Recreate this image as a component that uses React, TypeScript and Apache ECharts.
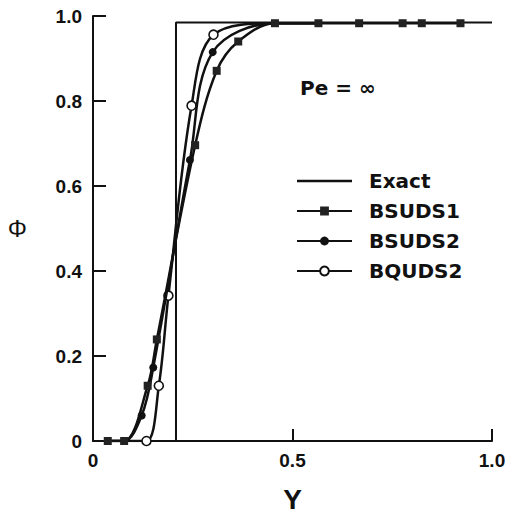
import React, { useEffect, useRef } from "react";
import * as echarts from "echarts";

// Phi(Y) profiles for Pe = infinity: exact step and three upwind schemes
const exact: number[][] = [
  [0, 0],
  [0.208, 0],
  [0.208, 0.985],
  [1.0, 0.985],
];

const bsuds1: number[][] = [
  [0.037, 0],
  [0.078, 0],
  [0.137, 0.13],
  [0.16, 0.239],
  [0.256, 0.696],
  [0.31, 0.871],
  [0.364, 0.94],
  [0.456, 0.983],
  [0.565, 0.983],
  [0.667, 0.983],
  [0.776, 0.983],
  [0.824, 0.983],
  [0.921, 0.983],
];

const bsuds2: number[][] = [
  [0.037, 0],
  [0.078, 0],
  [0.122, 0.06],
  [0.151, 0.173],
  [0.243, 0.661],
  [0.3, 0.915],
  [0.456, 0.983],
  [0.565, 0.983],
];

const bquds2: number[][] = [
  [0.037, 0],
  [0.078, 0],
  [0.134, 0],
  [0.165, 0.13],
  [0.189, 0.342],
  [0.247, 0.789],
  [0.302, 0.956],
  [0.456, 0.983],
  [0.565, 0.983],
];

const ink = "#111";
const tickFont = "Liberation Sans";
const textFont = "DejaVu Sans";

const fmt = (v: number) => (v === 0 ? "0" : v.toFixed(1));

// points shared with BSUDS1 are drawn only once, as its square
const sharedWithSquares = (v: number[]) =>
  bsuds1.some((p) => p[0] === v[0] && p[1] === v[1]);
const circleUnlessShared = (v: number[]) => (sharedWithSquares(v) ? "none" : "circle");

export default function App() {
  const ref = useRef<HTMLDivElement>(null);

  useEffect(() => {
    document.body.style.margin = "0";
    if (!ref.current) return;
    const chart = echarts.init(ref.current, undefined, { renderer: "svg" });
    chart.setOption({
      animation: false,
      backgroundColor: "#fff",
      grid: { left: 93, right: 18, top: 16, bottom: 72 },
      xAxis: {
        type: "value",
        min: 0,
        max: 1,
        interval: 0.5,
        name: "Y",
        nameLocation: "middle",
        nameGap: 44,
        nameTextStyle: { fontFamily: tickFont, fontSize: 28, fontWeight: "bold", color: ink },
        axisLine: { show: true, lineStyle: { color: ink, width: 2 } },
        axisTick: { show: true, inside: true, length: 12, lineStyle: { color: ink, width: 2 } },
        axisLabel: { formatter: fmt, margin: 10, fontFamily: tickFont, fontSize: 19, fontWeight: "bold", color: ink },
        splitLine: { show: false },
      },
      yAxis: {
        type: "value",
        min: 0,
        max: 1,
        interval: 0.2,
        name: "Φ",
        nameLocation: "middle",
        nameRotate: 0,
        nameGap: 66,
        nameTextStyle: { fontFamily: tickFont, fontSize: 24, color: ink },
        axisLine: { show: true, lineStyle: { color: ink, width: 2 } },
        axisTick: { show: true, inside: true, length: 13, lineStyle: { color: ink, width: 2 } },
        axisLabel: { formatter: fmt, margin: 11, fontFamily: tickFont, fontSize: 19, fontWeight: "bold", color: ink },
        splitLine: { show: false },
      },
      legend: {
        orient: "vertical",
        left: 291,
        top: 166,
        itemWidth: 55,
        itemHeight: 11,
        itemGap: 10,
        textStyle: { fontFamily: textFont, fontSize: 20, fontWeight: "bold", color: ink, padding: [0, 0, 0, 12] },
        data: [
          { name: "Exact", icon: "path://M0,0H55V2.4H0Z", itemStyle: { color: ink } },
          "BSUDS1",
          "BSUDS2",
          "BQUDS2",
        ],
      },
      graphic: [
        {
          type: "text",
          left: 300,
          top: 78,
          style: { text: "Pe = ∞", font: `bold 20px "${textFont}"`, fill: ink },
        },
      ],
      series: [
        {
          name: "Exact",
          type: "line",
          data: exact,
          symbol: "none",
          lineStyle: { color: ink, width: 2 },
          itemStyle: { color: ink },
          z: 2,
        },
        {
          name: "BQUDS2",
          type: "line",
          data: bquds2,
          smooth: 0.35,
          symbol: circleUnlessShared,
          symbolSize: 9,
          lineStyle: { color: ink, width: 2.5 },
          itemStyle: { color: "#fff", borderColor: ink, borderWidth: 1.6 },
          z: 3,
        },
        {
          name: "BSUDS2",
          type: "line",
          data: bsuds2,
          smooth: 0.35,
          symbol: circleUnlessShared,
          symbolSize: 8,
          lineStyle: { color: ink, width: 2.5 },
          itemStyle: { color: ink, borderColor: ink, borderWidth: 0 },
          z: 4,
        },
        {
          name: "BSUDS1",
          type: "line",
          data: bsuds1,
          smooth: 0.35,
          symbol: "rect",
          symbolSize: 8,
          lineStyle: { color: ink, width: 2.5 },
          itemStyle: { color: "#222", borderColor: ink, borderWidth: 0 },
          z: 5,
        },
      ],
    });
    return () => chart.dispose();
  }, []);

  return <div ref={ref} style={{ width: 510, height: 518 }} />;
}
